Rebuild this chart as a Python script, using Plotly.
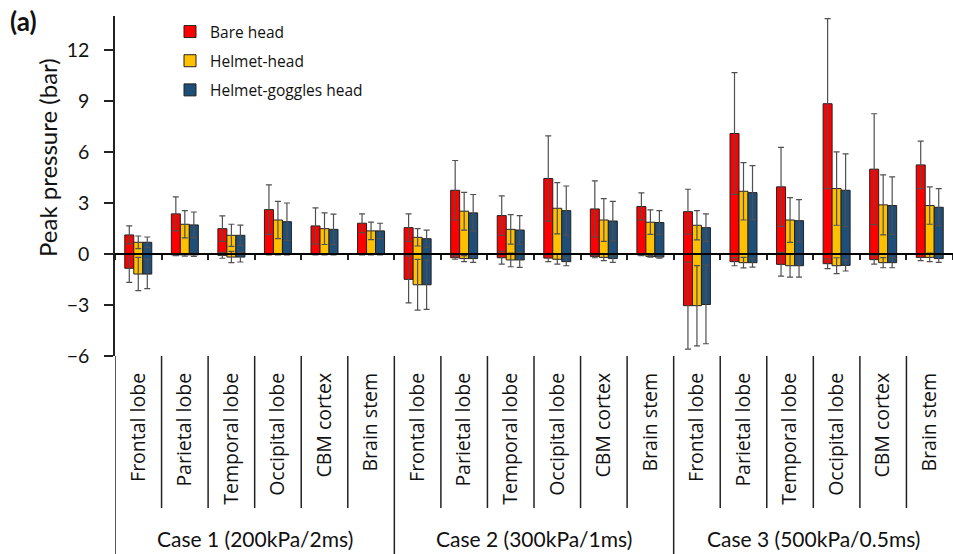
import plotly.graph_objects as go

# Brain regions and loading cases
regions = ["Frontal lobe", "Parietal lobe", "Temporal lobe", "Occipital lobe", "CBM cortex", "Brain stem"]
cases = ["Case 1 (200kPa/2ms)", "Case 2 (300kPa/1ms)", "Case 3 (500kPa/0.5ms)"]

# Peak positive / negative pressure (bar) and standard deviations, case 1 | case 2 | case 3
bare_pos = [1.12, 2.36, 1.49, 2.61, 1.65, 1.81,
            1.55, 3.75, 2.26, 4.44, 2.65, 2.79,
            2.49, 7.09, 3.95, 8.84, 4.99, 5.24]
bare_pos_sd = [0.53, 1.00, 0.75, 1.46, 1.06, 0.55,
               0.81, 1.75, 1.16, 2.51, 1.65, 0.80,
               1.32, 3.58, 2.32, 5.00, 3.26, 1.40]
bare_neg = [-0.84, -0.05, -0.08, -0.03, -0.03, -0.03,
            -1.49, -0.22, -0.22, -0.24, -0.14, -0.05,
            -3.04, -0.45, -0.61, -0.57, -0.33, -0.20]
bare_neg_sd = [0.83, 0.05, 0.17, 0.03, 0.03, 0.03,
               1.38, 0.09, 0.37, 0.21, 0.08, 0.04,
               2.56, 0.24, 0.69, 0.29, 0.26, 0.19]

helmet_pos = [0.69, 1.75, 1.10, 2.00, 1.49, 1.36,
              0.98, 2.52, 1.45, 2.69, 2.00, 1.87,
              1.69, 3.69, 2.00, 3.85, 2.89, 2.85]
helmet_pos_sd = [0.37, 0.80, 0.65, 1.10, 0.93, 0.51,
                 0.51, 1.11, 0.87, 1.51, 1.26, 0.72,
                 0.86, 1.69, 1.32, 2.16, 1.77, 1.10]
helmet_neg = [-1.18, -0.05, -0.18, -0.03, -0.03, -0.03,
              -1.81, -0.27, -0.35, -0.31, -0.20, -0.14,
              -3.04, -0.51, -0.69, -0.69, -0.51, -0.20]
helmet_neg_sd = [0.98, 0.07, 0.33, 0.03, 0.03, 0.03,
                 1.49, 0.18, 0.40, 0.28, 0.19, 0.05,
                 2.36, 0.31, 0.67, 0.47, 0.30, 0.25]

goggles_pos = [0.69, 1.71, 1.10, 1.90, 1.45, 1.36,
               0.90, 2.42, 1.41, 2.55, 1.94, 1.85,
               1.55, 3.61, 1.96, 3.75, 2.85, 2.75]
goggles_pos_sd = [0.31, 0.76, 0.60, 1.10, 0.90, 0.45,
                  0.51, 1.08, 0.85, 1.45, 1.16, 0.70,
                  0.81, 1.59, 1.24, 2.14, 1.69, 1.10]
goggles_neg = [-1.18, -0.05, -0.18, -0.03, -0.03, -0.03,
               -1.81, -0.27, -0.35, -0.45, -0.27, -0.18,
               -2.97, -0.51, -0.69, -0.67, -0.51, -0.27]
goggles_neg_sd = [0.86, 0.09, 0.29, 0.03, 0.03, 0.03,
                  1.45, 0.22, 0.44, 0.24, 0.22, 0.06,
                  2.31, 0.26, 0.67, 0.33, 0.30, 0.22]

y_ticks = [-6, -3, 0, 3, 6, 9, 12]

series = [
    ("Bare head", "#FF0000", bare_pos, bare_pos_sd, bare_neg, bare_neg_sd),
    ("Helmet-head", "#FFC000", helmet_pos, helmet_pos_sd, helmet_neg, helmet_neg_sd),
    ("Helmet-goggles head", "#1F4E79", goggles_pos, goggles_pos_sd, goggles_neg, goggles_neg_sd),
]

n_reg = len(regions)
n_cat = n_reg * len(cases)
x = list(range(n_cat))
tick_text = regions * len(cases)

LINE = "#222222"
ERR = "#505050"

fig = go.Figure()
for name, color, pos, pos_sd, neg, neg_sd in series:
    for vals, sd, show in ((pos, pos_sd, True), (neg, neg_sd, False)):
        fig.add_trace(go.Bar(
            x=x, y=vals, name=name, offsetgroup=name, legendgroup=name,
            showlegend=show,
            marker=dict(color=color, line=dict(color=LINE, width=1)),
            error_y=dict(type="data", array=sd, symmetric=True,
                         color=ERR, thickness=1.2, width=3),
        ))

# invisible carrier for the zero-level axis line
fig.add_trace(go.Scatter(x=[x[0]], y=[0], xaxis="x2", yaxis="y", mode="markers",
                         marker=dict(opacity=0), hoverinfo="skip", showlegend=False))

y_min, y_max = -6, 14
zero_pos = (0 - y_min) / (y_max - y_min)
plot_h = 554 - 16 - 198
boundaries = [i - 0.5 for i in range(n_cat + 1)]

shapes = []
for b in boundaries[:-1]:
    long_line = round(b + 0.5) % n_reg == 0
    shapes.append(dict(
        type="line", xref="x", yref="paper", x0=b, x1=b,
        y0=0, y1=-(198 if long_line else 152) / plot_h,
        line=dict(color=LINE, width=1.5), layer="above",
    ))

annotations = []
for i, c in enumerate(cases):
    annotations.append(dict(
        x=i * n_reg + (n_reg - 1) / 2, xref="x", y=-182 / plot_h, yref="paper",
        text=c, showarrow=False, xanchor="center", yanchor="middle",
        font=dict(family="Lato", size=21, color="#111111"),
    ))
annotations.append(dict(
    x=(47 - 115) / 838, xref="paper", y=(356 - 158) / plot_h, yref="paper",
    text="Peak pressure (bar)", textangle=-90, showarrow=False,
    xanchor="center", yanchor="middle",
    font=dict(family="Lato", size=24, color="#111111"),
))
annotations.append(dict(
    x=(8 - 115) / 838, xref="paper", y=(356 - 3) / plot_h, yref="paper",
    text="<b>(a)</b>", showarrow=False, xanchor="left", yanchor="top",
    font=dict(family="Lato", size=26, color="#111111"),
))

fig.update_layout(
    width=953, height=554,
    margin=dict(l=115, r=0, t=16, b=198),
    paper_bgcolor="white", plot_bgcolor="white",
    barmode="group", bargap=0.42, bargroupgap=0,
    showlegend=True,
    legend=dict(x=(170 - 115) / 838, y=(356 - 15) / plot_h, xanchor="left", yanchor="top",
                bgcolor="rgba(0,0,0,0)", tracegroupgap=6, itemwidth=30,
                font=dict(family="Open Sans", size=15.5, color="#111111")),
    xaxis=dict(
        range=[-0.5, n_cat - 0.5], tickmode="array", tickvals=x, ticktext=tick_text,
        tickangle=-90, ticks="", showline=False, showgrid=False, zeroline=False,
        ticklabelstandoff=12,
        tickfont=dict(family="Open Sans", size=19.5, color="#111111"),
    ),
    xaxis2=dict(
        overlaying="x", anchor="free", position=zero_pos,
        range=[-0.5, n_cat - 0.5], tickmode="array", tickvals=boundaries,
        ticks="outside", ticklen=5, tickwidth=1.5, tickcolor=LINE,
        showticklabels=False, showline=True, linecolor="#000000", linewidth=2,
        showgrid=False, zeroline=False, layer="above traces",
    ),
    yaxis=dict(
        range=[y_min, y_max], tickmode="array", tickvals=y_ticks,
        ticks="outside", ticklen=9, tickwidth=1.5, tickcolor=LINE,
        showline=True, linecolor=LINE, linewidth=1.5,
        showgrid=False, zeroline=False, ticklabelstandoff=11,
        tickfont=dict(family="Lato", size=19.5, color="#111111"),
    ),
    shapes=shapes, annotations=annotations,
)

fig.write_html("out.html")
